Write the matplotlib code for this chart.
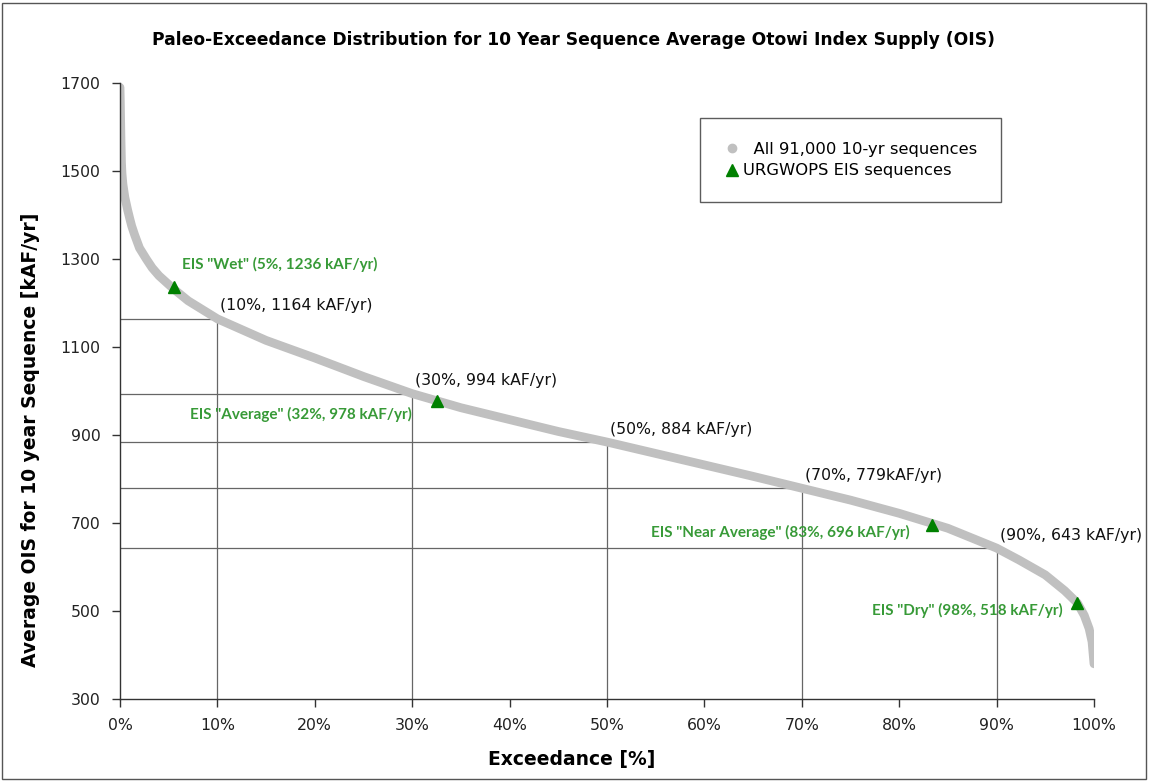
import matplotlib
matplotlib.use("Agg")
import matplotlib.pyplot as plt
from matplotlib.lines import Line2D
from matplotlib.patches import Rectangle
from matplotlib.ticker import FuncFormatter

# Exceedance curve (percent, kAF/yr)
curve_pct = [0.0, 0.03, 0.06, 0.1, 0.15, 0.2, 0.3, 0.5, 0.8, 1.0, 1.2, 1.5, 2.0, 2.7, 3.3,
             4.0, 5.5, 7.0, 10.0, 15.0, 20.0, 25.0, 30.0, 35.0, 40.0, 45.0, 50.0, 55.0,
             60.0, 65.0, 70.0, 75.0, 80.0, 85.0, 90.0, 92.3, 95.0, 97.0, 98.3, 99.0,
             99.5, 99.8, 100.0]
curve_val = [1690, 1660, 1620, 1570, 1520, 1495, 1470, 1440, 1410, 1392, 1375, 1355, 1325,
             1300, 1280, 1262, 1232, 1205, 1164, 1115, 1075, 1033, 994, 962, 935, 908,
             884, 858, 832, 806, 779, 752, 722, 688, 643, 616, 582, 546, 518, 490,
             460, 430, 380]

# Reference percentiles
ref_pct = [10, 30, 50, 70, 90]
ref_val = [1164, 994, 884, 779, 643]
ref_labels = ["(10%, 1164 kAF/yr)", "(30%, 994 kAF/yr)", "(50%, 884 kAF/yr)",
              "(70%, 779kAF/yr)", "(90%, 643 kAF/yr)"]

# EIS sequences
eis_pct = [5.5, 32.5, 83.4, 98.3]
eis_val = [1236, 978, 696, 518]
eis_labels = ['EIS "Wet" (5%, 1236 kAF/yr)', 'EIS "Average" (32%, 978 kAF/yr)',
              'EIS "Near Average" (83%, 696 kAF/yr)', 'EIS "Dry" (98%, 518 kAF/yr)']

W, H = 1149, 782
FONT = "DejaVu Sans"
fig = plt.figure(figsize=(W / 100, H / 100), dpi=100)
fig.patch.set_facecolor("white")
fig.patches.append(Rectangle((2 / W, 3 / H), (W - 5) / W, (H - 6) / H,
                             transform=fig.transFigure, fill=False,
                             edgecolor="#555555", linewidth=1.0))

ax = fig.add_axes([120 / W, 1 - 699 / H, 974 / W, 616 / H])
ax.set_xlim(0, 100)
ax.set_ylim(300, 1700)

# reference lines
for p, v in zip(ref_pct, ref_val):
    ax.plot([0, p], [v, v], color="#666666", lw=0.9, zorder=1)
    ax.plot([p, p], [300, v], color="#666666", lw=0.9, zorder=1)

ax.plot(curve_pct, curve_val, color="#c0c0c0", lw=6.3, solid_capstyle="round",
        solid_joinstyle="round", zorder=2)
ax.plot(eis_pct, eis_val, linestyle="none", marker="^", color="#008000", ms=8, zorder=3)

tfont = dict(family=FONT, fontsize=11.3, color="#111111")
for p, v, s in zip(ref_pct, ref_val, ref_labels):
    ax.annotate(s, (p, v), xytext=(3, 13), textcoords="offset pixels",
                ha="left", va="center", **tfont)

gfont = dict(family="Lato", fontweight="bold", fontsize=11, color="#379a37")
eis_text_pos = [(182, 264, "left"), (190, 414, "left"), (910, 532, "right"), (1063, 610, "right")]
for (px, py, ha), s in zip(eis_text_pos, eis_labels):
    ax.text(px / W, 1 - py / H, s, transform=fig.transFigure, ha=ha, va="center", **gfont)

ax.set_xticks(range(0, 101, 10))
ax.xaxis.set_major_formatter(FuncFormatter(lambda x, pos: f"{int(x)}%"))
ax.set_yticks(range(300, 1701, 200))
for sp in ["top", "right"]:
    ax.spines[sp].set_visible(False)
for sp in ["left", "bottom"]:
    ax.spines[sp].set_color("#333333")
    ax.spines[sp].set_linewidth(1.0)
ax.tick_params(direction="out", length=6, width=1, color="#333333",
               labelsize=11.3, labelcolor="#222222", pad=8)
for lbl in ax.get_xticklabels() + ax.get_yticklabels():
    lbl.set_family(FONT)

ax.set_xlabel("Exceedance [%]", fontsize=13.5, fontweight="bold", family=FONT)
ax.set_ylabel("Average OIS for 10 year Sequence [kAF/yr]", fontsize=13.5,
              fontweight="bold", family=FONT)
ax.xaxis.set_label_coords((572 - 120) / 974, -(760 - 699) / 616)
ax.yaxis.set_label_coords(-(120 - 31) / 974, (699 - 440) / 616)
ax.xaxis.label.set_va("center")
ax.yaxis.label.set_va("center")
fig.text(0.5 * (148 + 1000) / W, 1 - 40 / H,
         "Paleo-Exceedance Distribution for 10 Year Sequence Average Otowi Index Supply (OIS)",
         ha="center", va="center", fontsize=12.3, fontweight="bold", family=FONT)

handles = [Line2D([], [], linestyle="none", marker="o", color="#c0c0c0", ms=6),
           Line2D([], [], linestyle="none", marker="^", color="#008000", ms=8)]
leg = ax.legend(handles, ["  All 91,000 10-yr sequences", "URGWOPS EIS sequences"],
                loc="upper left", bbox_to_anchor=((700 - 120) / 974, 1 - (118 - 83) / 616),
                frameon=True, fancybox=False, edgecolor="#333333",
                prop={"family": FONT, "size": 11.8},
                handletextpad=0.2, handlelength=1.0, borderpad=1.45, labelspacing=0.4,
                borderaxespad=0)
leg.get_frame().set_linewidth(1.0)

fig.savefig("out.png", dpi=100)
